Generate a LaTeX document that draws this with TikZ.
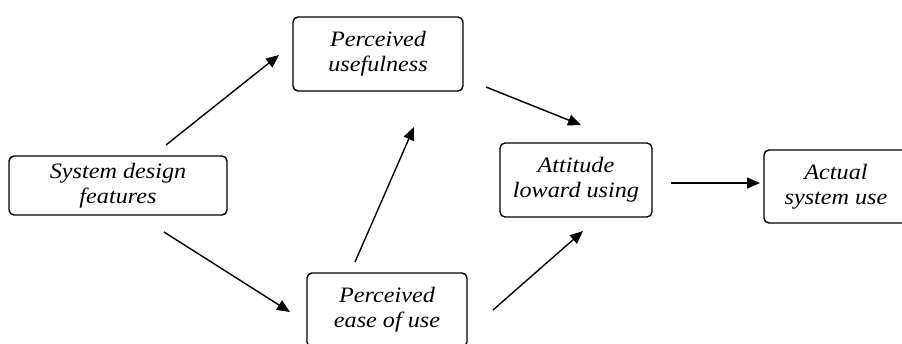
\documentclass[tikz,border=0pt]{standalone}
\usepackage{fontspec}
\setmainfont{Liberation Serif}[FakeStretch=1.1]
\usetikzlibrary{arrows.meta}
\begin{document}
\begin{tikzpicture}[x=1pt,y=-1pt,
  box/.style={draw, rounded corners=5pt, line width=1.4pt, align=center, inner sep=0pt,
    font=\fontsize{22}{25}\selectfont\itshape},
  arr/.style={line width=1.4pt, -{Triangle[length=13pt,width=11pt]}}]
\useasboundingbox (0,0) rectangle (902,343);
\fill[white] (0,0) rectangle (902,343);
\node[box, minimum width=218pt, minimum height=59pt] (sdf) at (118,185.5) {System design\\features};
\node[box, minimum width=170pt, minimum height=74pt] (pu) at (378,54) {Perceived\\usefulness};
\node[box, minimum width=152pt, minimum height=74pt] (att) at (576,180) {Attitude\\loward using};
\node[box, minimum width=144pt, minimum height=73pt] (asu) at (836,186.5) {Actual\\system use};
\node[box, minimum width=160pt, minimum height=74pt] (peou) at (387,310) {Perceived\\ease of use};
\coordinate (a1s) at (166,145); \coordinate (a1e) at (279,55);
\coordinate (a2s) at (164,232); \coordinate (a2e) at (290,312);
\coordinate (a3s) at (355,262); \coordinate (a3e) at (414,127);
\coordinate (a4s) at (486,87);  \coordinate (a4e) at (581,125);
\coordinate (a5s) at (493,310); \coordinate (a5e) at (583,231);
\coordinate (a6s) at (671,183); \coordinate (a6e) at (760,183);
\draw[arr] (a1s) -- (a1e);
\draw[arr] (a2s) -- (a2e);
\draw[arr] (a3s) -- (a3e);
\draw[arr] (a4s) -- (a4e);
\draw[arr] (a5s) -- (a5e);
\draw[arr] (a6s) -- (a6e);
\end{tikzpicture}
\end{document}
